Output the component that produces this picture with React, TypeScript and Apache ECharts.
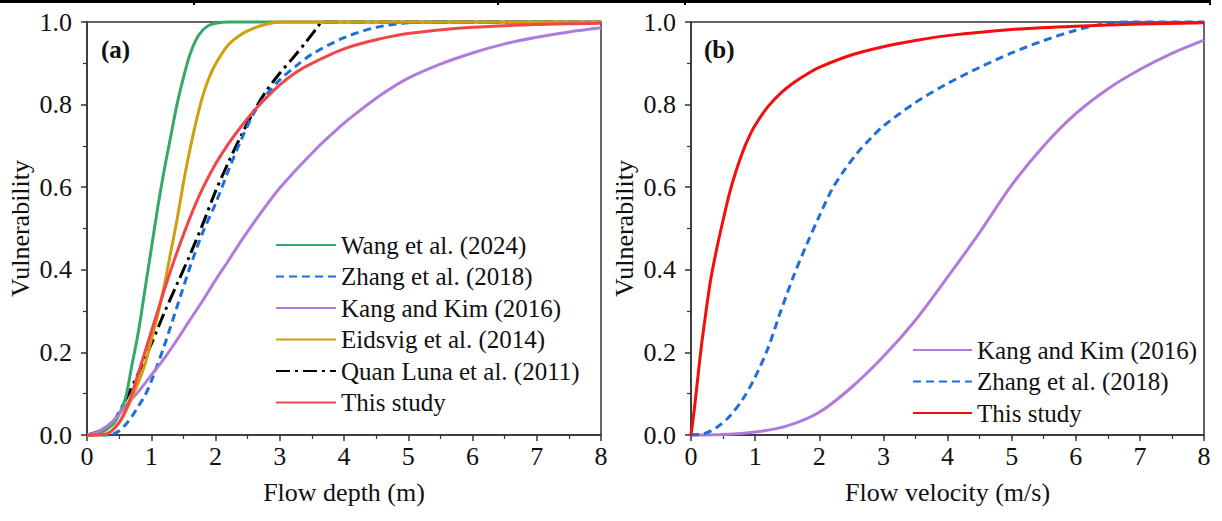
import React, { useEffect, useRef } from "react";
import * as echarts from "echarts";

// ---------- Data ----------
// Panel (a): vulnerability vs flow depth (m)
const wangA = [[0,0],[0.2,0.005],[0.4,0.025],[0.5,0.05],[0.6,0.09],[0.7,0.17],[0.8,0.25],[0.9,0.35],[1.0,0.45],[1.1,0.55],[1.2,0.64],[1.3,0.72],[1.4,0.8],[1.5,0.865],[1.6,0.92],[1.7,0.958],[1.8,0.98],[1.9,0.992],[2.0,0.997],[2.2,1.0],[8,1.0]];
const zhangA = [[0,0],[0.35,0],[0.5,0.01],[0.6,0.025],[0.7,0.045],[0.8,0.07],[0.9,0.095],[1.0,0.13],[1.2,0.215],[1.4,0.31],[1.6,0.405],[1.8,0.49],[2.0,0.56],[2.2,0.64],[2.4,0.715],[2.6,0.78],[2.8,0.825],[3.0,0.86],[3.25,0.893],[3.5,0.922],[4.0,0.962],[4.5,0.987],[5.0,0.998],[5.5,1.0],[8,1.0]];
const kangA = [[0,0],[0.2,0.01],[0.4,0.033],[0.6,0.07],[0.8,0.105],[1.0,0.145],[1.2,0.185],[1.4,0.23],[1.6,0.278],[1.8,0.325],[2.0,0.375],[2.2,0.422],[2.4,0.47],[2.6,0.515],[2.8,0.558],[3.0,0.598],[3.2,0.633],[3.4,0.666],[3.6,0.698],[3.8,0.727],[4.0,0.755],[4.2,0.78],[4.6,0.826],[5.0,0.864],[5.5,0.898],[6.0,0.925],[6.5,0.947],[7.0,0.963],[7.5,0.976],[8.0,0.986]];
const eidsvigA = [[0,0],[0.3,0.003],[0.5,0.03],[0.7,0.09],[0.9,0.17],[1.0,0.23],[1.1,0.29],[1.2,0.36],[1.3,0.44],[1.4,0.52],[1.5,0.61],[1.6,0.69],[1.7,0.76],[1.8,0.82],[1.9,0.865],[2.0,0.898],[2.2,0.945],[2.4,0.97],[2.6,0.985],[2.8,0.995],[3.0,1.0],[8,1.0]];
const quanLunaA = [[0,0],[0.2,0.01],[0.4,0.03],[0.6,0.085],[0.8,0.15],[1.0,0.22],[1.2,0.295],[1.4,0.365],[1.6,0.435],[1.8,0.51],[2.0,0.59],[2.2,0.66],[2.4,0.725],[2.6,0.785],[2.8,0.835],[3.0,0.876],[3.2,0.912],[3.4,0.95],[3.6,0.99],[3.65,1.0],[8,1.0]];
const thisStudyA = [[0,0],[0.3,0.002],[0.5,0.03],[0.6,0.06],[0.7,0.1],[0.8,0.15],[0.9,0.2],[1.0,0.25],[1.1,0.3],[1.2,0.35],[1.3,0.397],[1.4,0.442],[1.6,0.525],[1.8,0.597],[2.0,0.656],[2.2,0.705],[2.4,0.747],[2.6,0.785],[2.8,0.818],[3.0,0.848],[3.25,0.878],[3.5,0.9],[4.0,0.935],[4.5,0.957],[5.0,0.972],[6.0,0.987],[7.0,0.994],[8.0,0.997]];

// Panel (b): vulnerability vs flow velocity (m/s)
const kangB = [[0,0],[0.5,0.001],[1.0,0.007],[1.5,0.022],[2.0,0.055],[2.5,0.115],[3.0,0.19],[3.5,0.278],[4.0,0.382],[4.5,0.49],[5.0,0.605],[5.5,0.7],[6.0,0.778],[6.5,0.838],[7.0,0.885],[7.5,0.924],[8.0,0.956]];
const zhangB = [[0,0],[0.2,0.003],[0.4,0.018],[0.6,0.045],[0.8,0.085],[1.0,0.14],[1.2,0.21],[1.4,0.3],[1.6,0.385],[1.8,0.46],[2.0,0.53],[2.2,0.595],[2.4,0.643],[2.6,0.684],[2.8,0.718],[3.0,0.748],[3.5,0.805],[4.0,0.851],[4.5,0.89],[5.0,0.925],[5.5,0.955],[6.0,0.98],[6.5,0.997],[7.0,1.0],[8.0,1.0]];
const thisStudyB = [[0,0],[0.05,0.06],[0.1,0.13],[0.15,0.2],[0.2,0.26],[0.3,0.37],[0.4,0.45],[0.5,0.52],[0.6,0.585],[0.7,0.638],[0.8,0.683],[0.9,0.72],[1.0,0.75],[1.2,0.795],[1.4,0.828],[1.6,0.853],[1.8,0.873],[2.0,0.89],[2.5,0.92],[3.0,0.94],[3.5,0.955],[4.0,0.967],[5.0,0.982],[6.0,0.99],[7.0,0.995],[8.0,0.998]];

const legendA = ["Wang et al. (2024)", "Zhang et al. (2018)", "Kang and Kim (2016)", "Eidsvig et al. (2014)", "Quan Luna et al. (2011)", "This study"];
const legendB = ["Kang and Kim (2016)", "Zhang et al. (2018)", "This study"];
const xTitles = ["Flow depth (m)", "Flow velocity (m/s)"];
const yTitle = "Vulnerability";
const panelLabels = ["(a)", "(b)"];

const FONT = "Liberation Serif";
const C = {
  green: "#35A96A",
  blue: "#1F6FDB",
  purple: "#B07CDC",
  gold: "#D19E0C",
  black: "#000000",
  redA: "#F24646",
  redB: "#F50D0D",
  axis: "#333333",
  text: "#111111",
};

export default function App() {
  const ref = useRef<HTMLDivElement>(null);
  useEffect(() => {
    document.body.style.margin = "0";
    const chart = echarts.init(ref.current!, null, { renderer: "svg" });

    const mkX = (gridIndex: number, name: string) => ({
      type: "value",
      gridIndex,
      min: 0,
      max: 8,
      interval: 1,
      name,
      nameLocation: "middle",
      nameGap: 44,
      nameTextStyle: { fontFamily: FONT, fontSize: 26, color: C.text },
      axisLine: { show: true, onZero: false, lineStyle: { color: C.axis, width: 1.5 } },
      axisTick: { show: true, inside: false, length: 6, lineStyle: { color: C.axis, width: 1.5 } },
      minorTick: { show: true, splitNumber: 2, length: 4, lineStyle: { color: C.axis, width: 1.2 } },
      axisLabel: { fontFamily: FONT, fontSize: 26, color: C.text, margin: 8 },
      splitLine: { show: false },
    });
    const mkY = (gridIndex: number) => ({
      type: "value",
      gridIndex,
      min: 0,
      max: 1,
      interval: 0.2,
      name: yTitle,
      nameLocation: "middle",
      nameGap: 54,
      nameTextStyle: { fontFamily: FONT, fontSize: 26, color: C.text },
      axisLine: { show: true, onZero: false, lineStyle: { color: C.axis, width: 1.5 } },
      axisTick: { show: true, inside: false, length: 6, lineStyle: { color: C.axis, width: 1.5 } },
      minorTick: { show: true, splitNumber: 2, length: 4, lineStyle: { color: C.axis, width: 1.2 } },
      axisLabel: { fontFamily: FONT, fontSize: 26, color: C.text, margin: 15, formatter: (v: number) => v.toFixed(1) },
      splitLine: { show: false },
    });

    const line = (name: string, data: number[][], idx: number, color: string, type: any = "solid", z = 2) => ({
      type: "line",
      name,
      xAxisIndex: idx,
      yAxisIndex: idx,
      data,
      z,
      symbol: "none",
      smooth: 0.3,
      clip: false,
      lineStyle: { color, width: 3, type },
      itemStyle: { color },
    });

    const legendText = { fontFamily: FONT, fontSize: 25, color: C.text, lineHeight: 26 };
    const hidden = { opacity: 0 };

    chart.setOption({
      animation: false,
      backgroundColor: "#ffffff",
      grid: [
        { left: 87, top: 22, width: 514, height: 413, show: true, borderColor: C.axis, borderWidth: 1.5, backgroundColor: "transparent" },
        { left: 691, top: 22, width: 513, height: 413, show: true, borderColor: C.axis, borderWidth: 1.5, backgroundColor: "transparent" },
      ],
      xAxis: [mkX(0, xTitles[0]), mkX(1, xTitles[1])],
      yAxis: [mkY(0), mkY(1)],
      legend: [
        {
          orient: "vertical",
          left: 275,
          top: 232,
          itemWidth: 60,
          itemHeight: 14,
          itemGap: 5.5,
          padding: 0,
          selectedMode: false,
          itemStyle: hidden,
          textStyle: legendText,
          data: legendA.map((n) => ({ name: n, itemStyle: hidden })),
        },
        {
          orient: "vertical",
          left: 912,
          top: 337,
          itemWidth: 59,
          itemHeight: 14,
          itemGap: 5.5,
          padding: 0,
          selectedMode: false,
          itemStyle: hidden,
          textStyle: legendText,
          data: [
            { name: legendB[0], itemStyle: hidden, lineStyle: { color: C.purple } },
            { name: legendB[1], itemStyle: hidden, lineStyle: { color: C.blue } },
            { name: legendB[2], itemStyle: hidden, lineStyle: { color: C.redB } },
          ],
        },
      ],
      series: [
        line(legendA[0], wangA, 0, C.green),
        line(legendA[1], zhangA, 0, C.blue, [8, 5]),
        line(legendA[2], kangA, 0, C.purple),
        line(legendA[3], eidsvigA, 0, C.gold),
        line(legendA[4], quanLunaA, 0, C.black, [14, 5, 3, 5], 1),
        line(legendA[5], thisStudyA, 0, C.redA),
        line(legendB[0], kangB, 1, C.purple),
        line(legendB[1], zhangB, 1, C.blue, [8, 5]),
        line(legendB[2], thisStudyB, 1, C.redB),
      ],
      graphic: [
        { type: "rect", left: 0, top: 0, shape: { width: 1211, height: 3 }, style: { fill: "#000" } },
        { type: "rect", left: 193, top: 0, shape: { width: 2, height: 5 }, style: { fill: "#000" } },
        { type: "rect", left: 497, top: 0, shape: { width: 2, height: 5 }, style: { fill: "#000" } },
        { type: "rect", left: 684, top: 0, shape: { width: 2, height: 5 }, style: { fill: "#000" } },
        { type: "rect", left: 1209, top: 0, shape: { width: 2, height: 5 }, style: { fill: "#000" } },
        { type: "text", x: 101, y: 49, style: { text: panelLabels[0], fontFamily: FONT, fontSize: 25, fontWeight: "bold", fill: C.text, verticalAlign: "middle" } },
        { type: "text", x: 704, y: 49, style: { text: panelLabels[1], fontFamily: FONT, fontSize: 25, fontWeight: "bold", fill: C.text, verticalAlign: "middle" } },
      ],
    });
    return () => chart.dispose();
  }, []);
  return <div ref={ref} style={{ width: 1222, height: 521 }} />;
}
